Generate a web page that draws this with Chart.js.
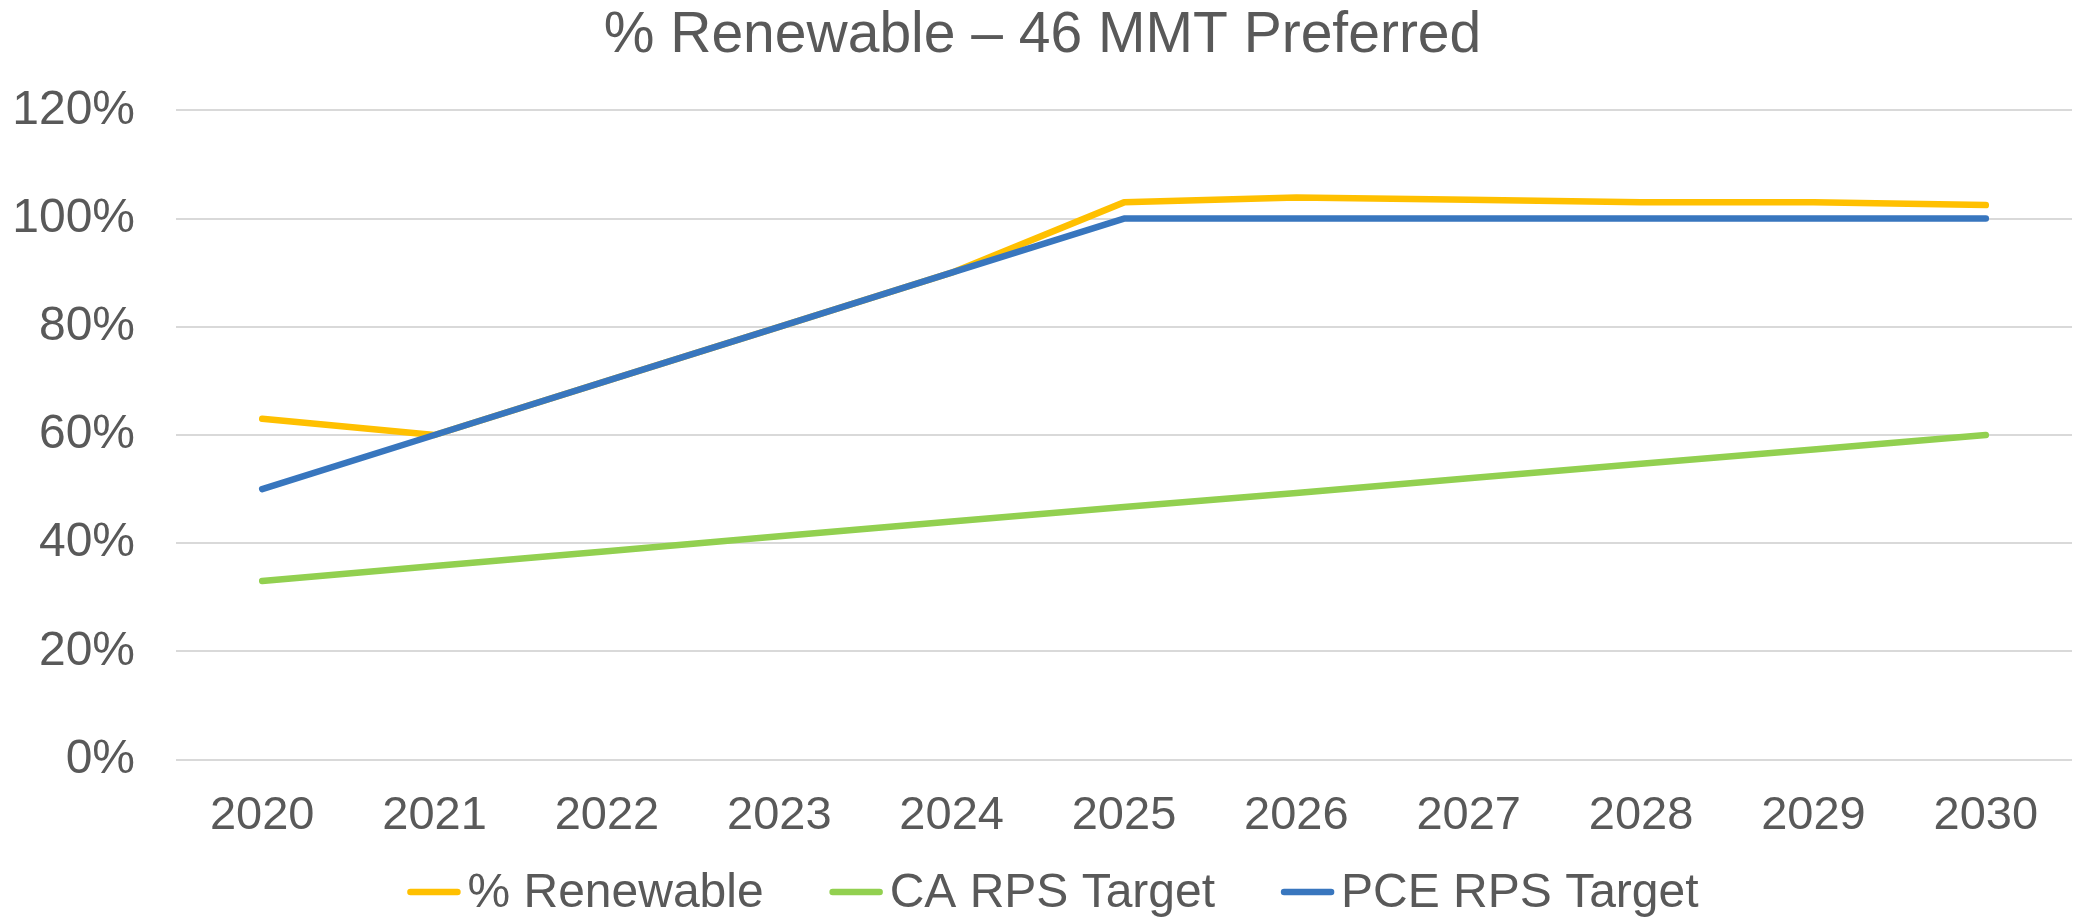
<!DOCTYPE html>
<html>
  <head>
    <title>% Renewable – 46 MMT Preferred</title>
    <script src="https://cdn.jsdelivr.net/npm/chart.js"></script>
    <style>
      body { margin: 0; background: #fff; }
    </style>
  </head>
  <body>
    <canvas id="renewable-chart" width="2080" height="917"></canvas>

    <script>
      // Chart data
      const years = ['2020', '2021', '2022', '2023', '2024', '2025', '2026', '2027', '2028', '2029', '2030'];
      const renewable = [63, 60, 70, 80, 90, 103, 103.9, 103.5, 103, 103, 102.5];
      const caRpsTarget = [33, 35.8, 38.5, 41.3, 44, 46.7, 49.3, 52, 54.7, 57.3, 60];
      const pceRpsTarget = [50, 60, 70, 80, 90, 100, 100, 100, 100, 100, 100];
      const yTicks = [0, 20, 40, 60, 80, 100, 120];

      const textColor = '#595959';
      const fontFamily = '"Liberation Sans", Arial, sans-serif';

      const data = {
        labels: years,
        datasets: [
          { label: '% Renewable', data: renewable, borderColor: '#FFC000', order: 2 },
          { label: 'CA RPS Target', data: caRpsTarget, borderColor: '#92D050', order: 1 },
          { label: 'PCE RPS Target', data: pceRpsTarget, borderColor: '#3876BE', order: 0 },
        ],
      };

      data.datasets.forEach(ds => {
        ds.backgroundColor = ds.borderColor;
        ds.borderWidth = 6.5;
        ds.pointRadius = 0;
        ds.pointHoverRadius = 0;
        ds.borderCapStyle = 'round';
        ds.borderJoinStyle = 'round';
        ds.tension = 0;
      });

      // Excel style legend: short line, small gap, label, wide gap to next item
      const bottomLegend = {
        id: 'bottomLegend',
        afterDraw(chart) {
          const ctx = chart.ctx;
          const lineLen = 53, textGap = 7, itemGap = 66, y = 892;
          ctx.save();
          ctx.font = '48px ' + fontFamily;
          ctx.textBaseline = 'middle';
          const items = chart.data.datasets.map(ds => ({
            label: ds.label,
            color: ds.borderColor,
            w: ctx.measureText(ds.label).width,
          }));
          const total = items.reduce((s, it) => s + lineLen + textGap + it.w, 0) + itemGap * (items.length - 1);
          let x = chart.width / 2 + 13 - total / 2;
          items.forEach(it => {
            ctx.strokeStyle = it.color;
            ctx.lineWidth = 6.5;
            ctx.lineCap = 'round';
            ctx.beginPath();
            ctx.moveTo(x + 3, y);
            ctx.lineTo(x + lineLen - 3, y);
            ctx.stroke();
            ctx.fillStyle = textColor;
            ctx.fillText(it.label, x + lineLen + textGap, y + 2);
            x += lineLen + textGap + it.w + itemGap;
          });
          ctx.restore();
        },
      };

      const options = {
        responsive: false,
        devicePixelRatio: 1,
        animation: false,
        layout: {
          padding: { left: 13, right: 8, top: 0, bottom: 45 },
        },
        plugins: {
          title: {
            display: true,
            text: '% Renewable – 46 MMT Preferred',
            color: textColor,
            font: { family: fontFamily, size: 57, weight: 'normal' },
            padding: { top: 2, bottom: 40 },
          },
          legend: { display: false },
          tooltip: { enabled: false },
        },
        scales: {
          x: {
            offset: true,
            grid: { display: false, drawTicks: false },
            border: { display: false },
            ticks: {
              color: textColor,
              font: { family: fontFamily, size: 47 },
              padding: 28,
              maxRotation: 0,
            },
          },
          y: {
            min: 0,
            max: 120,
            afterBuildTicks: axis => {
              axis.ticks = yTicks.map(v => ({ value: v }));
            },
            afterFit: axis => {
              axis.width = 163;
            },
            grid: { color: '#D9D9D9', lineWidth: 2, drawTicks: false },
            border: { display: false },
            ticks: {
              color: textColor,
              font: { family: fontFamily, size: 48 },
              padding: 41,
              callback: value => value + '%',
            },
          },
        },
      };

      const renewableChart = new Chart(document.getElementById('renewable-chart'), {
        type: 'line',
        data: data,
        options: options,
        plugins: [bottomLegend],
      });
    </script>
  </body>
</html>
